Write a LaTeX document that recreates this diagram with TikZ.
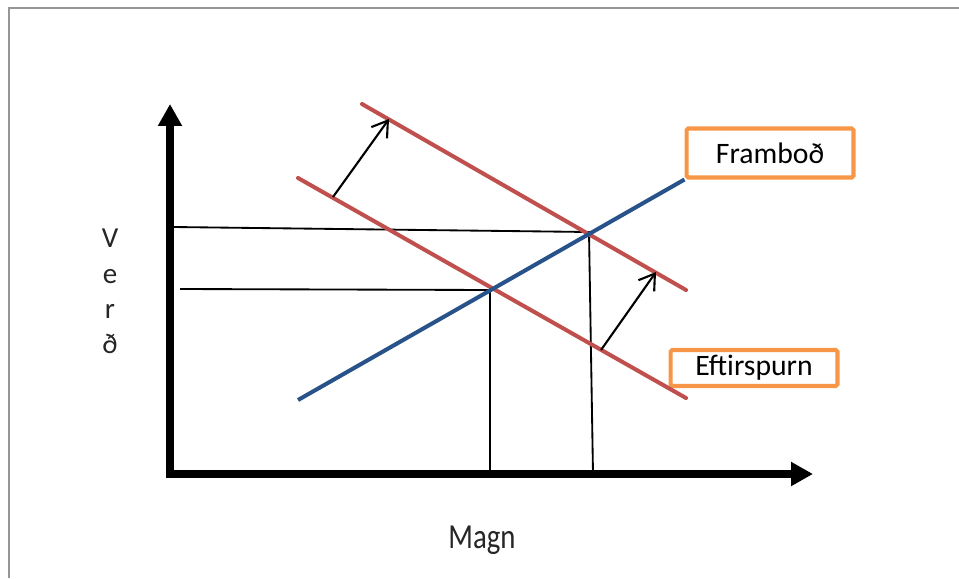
\documentclass[tikz,border=0pt]{standalone}
\usepackage{fontspec}
\setmainfont{Carlito}
\usetikzlibrary{arrows.meta}
\definecolor{dred}{RGB}{192,80,77}
\definecolor{sblue}{RGB}{40,82,138}
\definecolor{borange}{RGB}{247,150,70}
\definecolor{framegray}{RGB}{150,150,150}
\tikzset{
  axisline/.style={line width=4pt, line join=miter,
    {Triangle[length=12.5pt,width=13pt]}-{Triangle[length=12.5pt,width=13pt]}},
  guide/.style={line width=1.05pt, black},
  demand/.style={line width=2.3pt, dred, line cap=round},
  supply/.style={line width=2.3pt, sblue},
  shiftarrow/.style={line width=1.2pt, black, -{Straight Barb[length=8.5pt,width=11pt]}},
  tag/.style={draw=borange, line width=2.3pt, rounded corners=1pt, fill=white,
    font=\fontsize{16.9}{20}\selectfont, inner sep=0pt},
  axlabel/.style={font=\fontsize{16.5}{20}\selectfont, text=black!85, anchor=base},
}
\begin{document}
\begin{tikzpicture}[x=0.02cm,y=-0.02cm]
\useasboundingbox (0,0) rectangle (959,578);
% frame (top and left edges visible)
\coordinate (fbl) at (9,578);
\coordinate (ftl) at (9,8);
\coordinate (ftr) at (959,8);
\draw[framegray, line width=1.3pt] (fbl) -- (ftl) -- (ftr);

% axes
\coordinate (O) at (170,474);
\coordinate (ytip) at (170,104);
\coordinate (xtip) at (813,474);
\draw[axisline] (ytip) -- (O) -- (xtip);

% equilibrium points
\coordinate (E1) at (490,290);
\coordinate (E2) at (589,232);

% guide lines
\coordinate (h1) at (173,227);
\coordinate (h2) at (180,289);
\coordinate (v1) at (490,474);
\coordinate (v2) at (593,474);
\draw[guide] (h1) -- (E2) -- (v2);
\draw[guide] (h2) -- (E1) -- (v1);

% labels in boxes
\node[tag, minimum width=3.34cm, minimum height=0.98cm] (fram) at (770,153) {Framboð};
\node[tag, minimum width=3.34cm, minimum height=0.72cm] (eft) at (754,368) {Eftirspurn};

% demand curves
\coordinate (d1a) at (298,178);
\coordinate (d1b) at (686,398);
\coordinate (d2a) at (362,104);
\coordinate (d2b) at (686,290);
\draw[demand] (d1a) -- (d1b);
\draw[demand] (d2a) -- (d2b);

% supply curve
\coordinate (s0) at (298,400);
\draw[supply] (s0) -- (fram.south west);

% shift arrows
\coordinate (a1s) at (333,197);
\coordinate (a1e) at (389,119);
\coordinate (a2s) at (601,350);
\coordinate (a2e) at (656,272);
\draw[shiftarrow] (a1s) -- (a1e);
\draw[shiftarrow] (a2s) -- (a2e);

% axis labels
\node[axlabel] (lv) at (110,247) {V};
\node[axlabel] (le) at (110,283) {e};
\node[axlabel] (lr) at (110,318) {r};
\node[axlabel] (ld) at (110,353) {ð};
\node[font=\fontsize{20}{24}\selectfont, text=black!85, anchor=base, xscale=0.82] (magn) at (482,548) {Magn};
\end{tikzpicture}
\end{document}
